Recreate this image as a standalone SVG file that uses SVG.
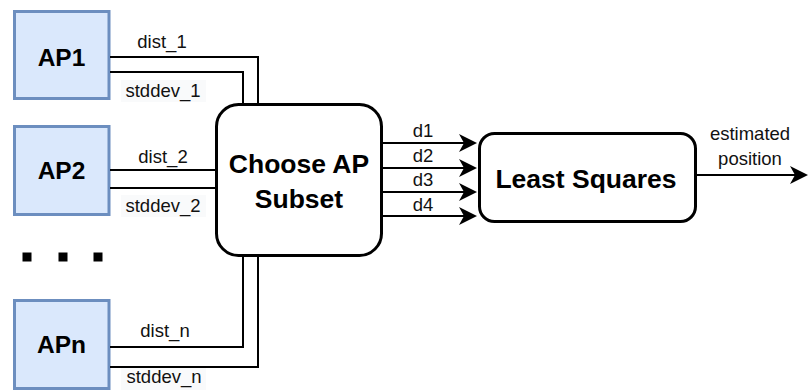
<svg xmlns="http://www.w3.org/2000/svg" width="809" height="390" viewBox="0 0 809 390">
  <style>
    .ap rect { fill: #dae8fc; stroke: #6c8ebf; stroke-width: 3; }
    .blk rect { fill: #ffffff; stroke: #000000; stroke-width: 3; }
    .title { font-family: "Liberation Sans", Arial, sans-serif; font-weight: bold; fill: #000; text-anchor: middle; }
    .lbl { font-family: "Liberation Sans", Arial, sans-serif; font-size: 18.5px; fill: #111; text-anchor: middle; }
    .wire { fill: none; stroke: #000; stroke-width: 2; }
    .lblbg { fill: #f9fafb; }
  </style>
  <defs>
    <marker id="arrow" viewBox="0 0 20 20" refX="5" refY="10" markerWidth="20" markerHeight="20" markerUnits="userSpaceOnUse" orient="auto">
      <path d="M0,1 L18,10 L0,19 L5,10 Z" fill="#000"/>
    </marker>
  </defs>

  <rect width="809" height="390" fill="#ffffff"/>

  <!-- access points -->
  <g id="ap1" class="ap">
    <rect x="14.5" y="11.5" width="94.5" height="87"/>
    <text class="title" x="61.5" y="66" font-size="24.5">AP1</text>
  </g>
  <g id="ap2" class="ap">
    <rect x="14.5" y="126.5" width="94.5" height="88"/>
    <text class="title" x="61.5" y="179" font-size="24.5">AP2</text>
  </g>
  <g id="ellipsis">
    <rect x="22.5" y="252.5" width="9" height="9" fill="#000"/>
    <rect x="58.5" y="252.5" width="9" height="9" fill="#000"/>
    <rect x="93.5" y="252.5" width="9" height="9" fill="#000"/>
  </g>
  <g id="apn" class="ap">
    <rect x="14.5" y="300.5" width="94.5" height="88"/>
    <text class="title" x="61.5" y="353" font-size="24.5">APn</text>
  </g>

  <!-- processing blocks -->
  <g id="choose-subset" class="blk">
    <rect x="216.5" y="104.5" width="165" height="151" rx="22" ry="22"/>
    <text class="title" x="299" y="173" font-size="26.5">Choose AP</text>
    <text class="title" x="299" y="208" font-size="26.5">Subset</text>
  </g>
  <g id="least-squares" class="blk">
    <rect x="479.5" y="133.5" width="216" height="88" rx="15" ry="15"/>
    <text class="title" x="586" y="188" font-size="26.5">Least Squares</text>
  </g>

  <!-- connectors -->
  <g id="connectors">
    <path class="wire" d="M110,57 H258 V103"/>
    <path class="wire" d="M110,72 H243 V103"/>
    <path class="wire" d="M110,170 H215"/>
    <path class="wire" d="M110,188 H215"/>
    <path class="wire" d="M110,347 H243 V257"/>
    <path class="wire" d="M110,367 H258 V257"/>

    <path class="wire" d="M383,143 H464" marker-end="url(#arrow)"/>
    <path class="wire" d="M383,168 H464" marker-end="url(#arrow)"/>
    <path class="wire" d="M383,192 H464" marker-end="url(#arrow)"/>
    <path class="wire" d="M383,216 H464" marker-end="url(#arrow)"/>
    <path class="wire" d="M697,175 H795" marker-end="url(#arrow)"/>

    <text class="lbl" x="162" y="48">dist_1</text>
    <rect class="lblbg" x="121" y="80" width="85" height="22"/>
    <text class="lbl" x="163" y="97">stddev_1</text>
    <text class="lbl" x="163" y="163">dist_2</text>
    <rect class="lblbg" x="121" y="195" width="85" height="22"/>
    <text class="lbl" x="163" y="212">stddev_2</text>
    <text class="lbl" x="165" y="337">dist_n</text>
    <rect class="lblbg" x="121" y="368" width="85" height="22"/>
    <text class="lbl" x="164" y="383">stddev_n</text>

    <text class="lbl" x="423" y="137">d1</text>
    <text class="lbl" x="423" y="162">d2</text>
    <text class="lbl" x="423" y="186">d3</text>
    <text class="lbl" x="423" y="211">d4</text>

    <text class="lbl" x="750" y="140">estimated</text>
    <text class="lbl" x="750" y="165">position</text>
  </g>
</svg>
